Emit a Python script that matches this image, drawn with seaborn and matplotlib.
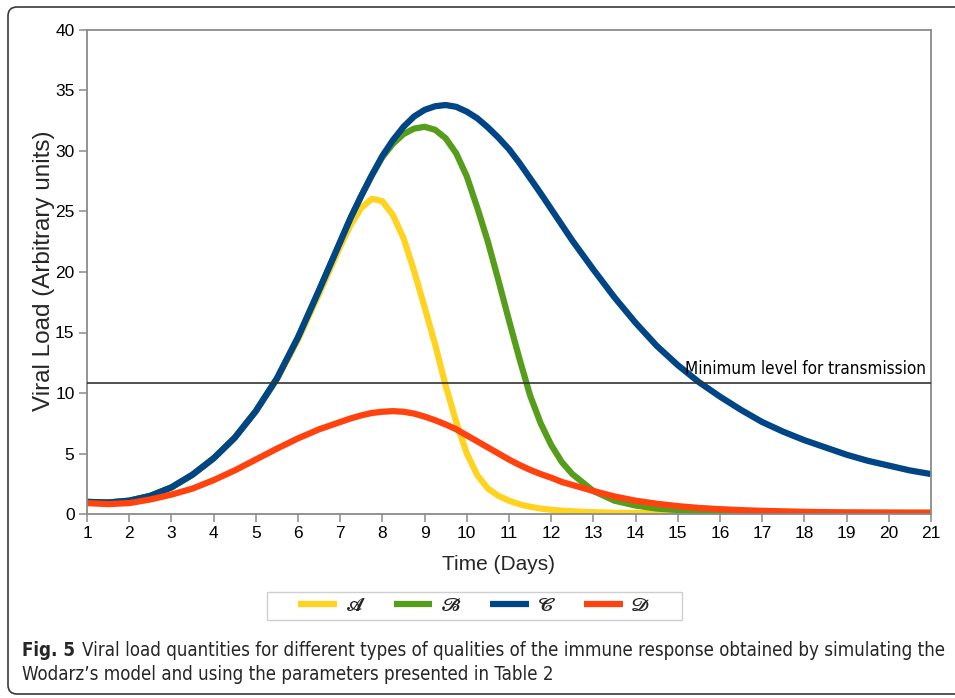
import numpy as np
import pandas as pd
import matplotlib
matplotlib.use("Agg")
import matplotlib.pyplot as plt
from matplotlib.lines import Line2D
from matplotlib.patches import FancyBboxPatch, Rectangle
from matplotlib.transforms import IdentityTransform
from matplotlib import font_manager
from matplotlib.font_manager import FontProperties
import seaborn as sns

# Simulated viral load per immune-response quality (arbitrary units)
days = [1, 1.5, 2, 2.5, 3, 3.5, 4, 4.5, 5, 5.5, 6, 6.5, 7,
        7.25, 7.5, 7.75, 8, 8.25, 8.5, 8.75, 9, 9.25, 9.5, 9.75, 10,
        10.25, 10.5, 10.75, 11, 11.25, 11.5, 11.75, 12, 12.25, 12.5,
        13, 13.5, 14, 14.5, 15, 15.5, 16, 16.5, 17, 17.5, 18, 18.5,
        19, 19.5, 20, 20.5, 21]

load_a = [1.0, 0.95, 1.1, 1.5, 2.2, 3.25, 4.6, 6.3, 8.5, 11.1, 14.4, 18.2, 22.1,
          23.9, 25.3, 26.05, 25.85, 24.7, 22.8, 20.1, 17.1, 14.0, 10.6, 7.6, 5.0,
          3.2, 2.1, 1.5, 1.1, 0.8, 0.6, 0.45, 0.35, 0.28, 0.22,
          0.15, 0.1, 0.08, 0.06, 0.05, 0.05, 0.05, 0.05, 0.05, 0.05, 0.05, 0.05,
          0.05, 0.05, 0.05, 0.05, 0.05]

load_b = [1.0, 0.95, 1.1, 1.5, 2.2, 3.25, 4.6, 6.3, 8.5, 11.2, 14.6, 18.5, 22.5,
          24.5, 26.3, 28.0, 29.5, 30.6, 31.4, 31.85, 32.0, 31.75, 31.05, 29.8, 27.9,
          25.3, 22.5, 19.3, 16.0, 12.8, 9.8, 7.5, 5.7, 4.3, 3.3,
          1.9, 1.1, 0.7, 0.45, 0.33, 0.25, 0.2, 0.16, 0.13, 0.11, 0.1, 0.1,
          0.1, 0.1, 0.1, 0.1, 0.1]

load_c = [1.0, 0.95, 1.1, 1.5, 2.2, 3.25, 4.6, 6.3, 8.5, 11.2, 14.6, 18.5, 22.5,
          24.5, 26.3, 28.0, 29.6, 30.9, 32.0, 32.85, 33.4, 33.7, 33.8, 33.65, 33.25,
          32.7, 31.95, 31.1, 30.15, 29.0, 27.75, 26.5, 25.2, 23.9, 22.6,
          20.2, 17.9, 15.8, 13.9, 12.3, 10.9, 9.7, 8.6, 7.6, 6.8, 6.1, 5.5,
          4.9, 4.4, 4.0, 3.6, 3.3]

load_d = [0.9, 0.82, 0.9, 1.2, 1.6, 2.1, 2.8, 3.6, 4.5, 5.4, 6.25, 7.0, 7.6,
          7.9, 8.15, 8.35, 8.45, 8.5, 8.45, 8.3, 8.05, 7.75, 7.4, 7.0, 6.5,
          6.0, 5.5, 5.0, 4.5, 4.05, 3.65, 3.3, 3.0, 2.65, 2.4,
          1.9, 1.45, 1.1, 0.85, 0.65, 0.5, 0.4, 0.32, 0.26, 0.22, 0.18, 0.15,
          0.13, 0.12, 0.11, 0.1, 0.1]

series_names = ["A", "B", "C", "D"]
series_labels = ["\U0001D4D0", "\U0001D4D1", "\U0001D4D2", "\U0001D4D3"]
series_colors = ["#FFD320", "#579D1C", "#004586", "#FF420E"]
transmission_level = 10.8
x_ticks = list(range(1, 22))
y_ticks = list(range(0, 41, 5))

df = pd.DataFrame({
    "Time": days * 4,
    "Load": load_a + load_b + load_c + load_d,
    "Series": sum([[n] * len(days) for n in series_names], []),
})

sns.set_theme(style="white")
plt.rcParams["font.family"] = ["Liberation Sans", "DejaVu Sans"]
plt.rcParams["lines.solid_joinstyle"] = "round"
plt.rcParams["lines.solid_capstyle"] = "butt"

# pick a condensed sans face when one is installed
def find_condensed(weight):
    for f in font_manager.fontManager.ttflist:
        st = str(f.stretch).lower()
        nm = f.name.lower()
        cond = ("condensed" in st and "extra" not in st and "ultra" not in st) \
            or "narrow" in nm or nm.endswith("condensed")
        if cond and f.style == "normal" and ("sans" in nm or "roboto" in nm or "lato" in nm):
            w = f.weight if isinstance(f.weight, int) else 400
            if (weight == "bold" and w >= 600) or (weight == "regular" and 350 <= w <= 500):
                return FontProperties(fname=f.fname)
    return None

cond_reg = find_condensed("regular")
cond_bold = find_condensed("bold")

W, H = 955, 698
fig = plt.figure(figsize=(W / 100, H / 100), dpi=100)
fig.patch.set_facecolor("white")

# rounded card frame around the figure (pixel coordinates)
card = FancyBboxPatch((8, 4), 980, 687,
                      boxstyle="round,pad=0,rounding_size=9",
                      transform=IdentityTransform(), fill=False,
                      edgecolor="#3a3a3a", linewidth=1.2, clip_on=False)
fig.patches.append(card)

left, right, top, bottom = 87, 931, 30, 514
ax = fig.add_axes([left / W, 1 - bottom / H, (right - left) / W, (bottom - top) / H])

sns.lineplot(data=df, x="Time", y="Load", hue="Series", hue_order=series_names,
             palette=dict(zip(series_names, series_colors)), linewidth=4.5,
             legend=False, ax=ax, estimator=None, sort=True)

ax.axhline(transmission_level, color="#333333", linewidth=1.2, zorder=5)

ax.set_xlim(1, 21)
ax.set_ylim(0, 40)
ax.set_xticks(x_ticks)
ax.set_yticks(y_ticks)
ax.set_xlabel("")
ax.set_ylabel("")
for s in ax.spines.values():
    s.set_color("#8a8a8a")
    s.set_linewidth(1.3)
ax.tick_params(axis="both", which="both", direction="out", length=6, width=1.1,
               color="#8a8a8a", labelsize=12.5, labelcolor="black", pad=3,
               left=True, bottom=True)

fig.text(44 / W, 1 - 271 / H, "Viral Load (Arbitrary units)", rotation=90,
         ha="center", va="center", fontsize=17.5)
fig.text(498 / W, 1 - 565 / H, "Time (Days)", ha="center", va="center", fontsize=15)

# legend in a plain grey box
fig.patches.append(Rectangle((267, H - 620), 415, 28, transform=IdentityTransform(),
                             fill=True, facecolor="white", edgecolor="#cfcfcf",
                             linewidth=1.0))
handles = [Line2D([0], [0], color=c, linewidth=4.5) for c in series_colors]
leg = fig.legend(handles, series_labels, ncol=4, loc="center",
                 bbox_to_anchor=(474.5 / W, 1 - 606 / H), frameon=False,
                 prop=FontProperties(family=["STIXGeneral", "DejaVu Sans"], size=14),
                 handlelength=2.0, columnspacing=1.45, handletextpad=0.45,
                 borderpad=0.2)

fig.canvas.draw()
renderer = fig.canvas.get_renderer()

def fit_width(txt, target_px):
    w = txt.get_window_extent(renderer).width
    txt.set_fontsize(txt.get_fontsize() * target_px / w)

# threshold annotation
base = cond_reg if cond_reg is not None else FontProperties(family="Liberation Sans")
thr = ax.text(20.88, transmission_level + 0.4, "Minimum level for transmission",
              ha="right", va="bottom", fontproperties=base.copy(), color="black")
thr.set_fontsize(15)
fit_width(thr, 242)

# caption below the chart
cap_reg = cond_reg if cond_reg is not None else FontProperties(family="Liberation Sans")
cap_bold = cond_bold if cond_bold is not None else FontProperties(family="Liberation Sans", weight="bold")
line1 = "Viral load quantities for different types of qualities of the immune response obtained by simulating the"
line2 = "Wodarz\u2019s model and using the parameters presented in Table 2"

fig_lbl = fig.text(22 / W, 1 - 650 / H, "Fig. 5", ha="left", va="center",
                   fontproperties=cap_bold.copy())
t1 = fig.text(0, 1 - 650 / H, line1, ha="left", va="center", fontproperties=cap_reg.copy())
size = 14
for _ in range(3):
    fig_lbl.set_fontsize(size)
    t1.set_fontsize(size)
    fig.canvas.draw()
    wl = fig_lbl.get_window_extent(renderer).width
    w1 = t1.get_window_extent(renderer).width
    size = size * (923 - 7) / (wl + w1)
fig_lbl.set_fontsize(size)
t1.set_fontsize(size)
fig.canvas.draw()
bb = fig_lbl.get_window_extent(renderer)
t1.set_x((bb.x1 + 7) / W)
fig.text(22 / W, 1 - 675 / H, line2, ha="left", va="center",
         fontproperties=cap_reg.copy(), fontsize=size)

fig.savefig("out.png", dpi=100, facecolor="white")
